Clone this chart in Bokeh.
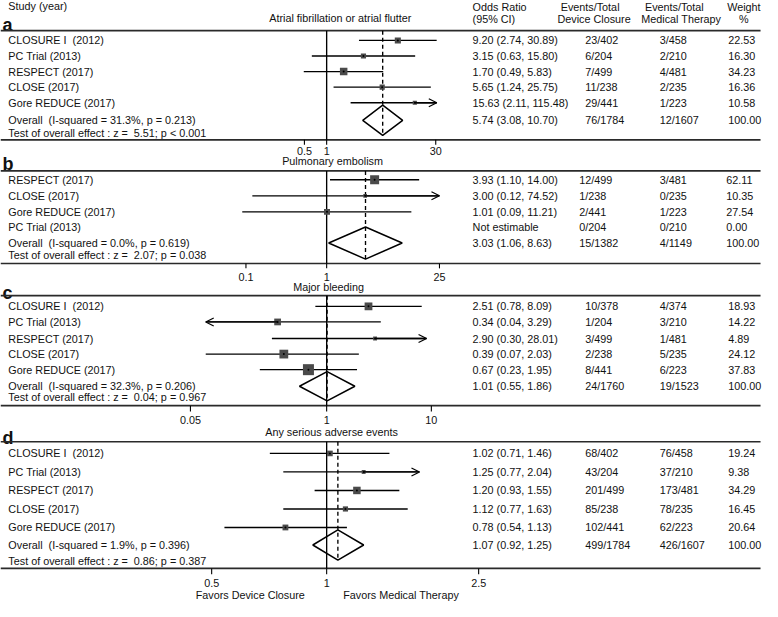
import math
from bokeh.plotting import figure
from bokeh.models import Range1d, LogScale, Arrow, OpenHead, ColumnDataSource
from bokeh.core.properties import value
from bokeh.embed import file_html
from bokeh.resources import INLINE

NB = "\u00a0"  # keeps the double spaces of the original labels

# ---------------- data ----------------
studies_a = ["CLOSURE I" + NB + " (2012)", "PC Trial (2013)", "RESPECT (2017)", "CLOSE (2017)", "Gore REDUCE (2017)"]
or_a = [9.20, 3.15, 1.70, 5.65, 15.63]
lo_a = [2.74, 0.63, 0.49, 1.24, 2.11]
hi_a = [30.89, 15.80, 5.83, 25.75, 115.48]
dev_a = ["23/402", "6/204", "7/499", "11/238", "29/441"]
med_a = ["3/458", "2/210", "4/481", "2/235", "1/223"]
wt_a = [22.53, 16.30, 34.23, 16.36, 10.58]
overall_a = [5.74, 3.08, 10.70]
tot_a = ["76/1784", "12/1607"]
het_a = "Overall" + NB + " (I-squared = 31.3%, p = 0.213)"
test_a = "Test of overall effect : z =" + NB + " 5.51; p < 0.001"
ticks_a = [0.5, 1, 30]
ticklab_a = ["0.5", "1", "30"]

studies_b = ["RESPECT (2017)", "CLOSE (2017)", "Gore REDUCE (2017)", "PC Trial (2013)"]
or_b = [3.93, 3.00, 1.01, None]
lo_b = [1.10, 0.12, 0.09, None]
hi_b = [14.00, 74.52, 11.21, None]
dev_b = ["12/499", "1/238", "2/441", "0/204"]
med_b = ["3/481", "0/235", "1/223", "0/210"]
wt_b = [62.11, 10.35, 27.54, 0.00]
overall_b = [3.03, 1.06, 8.63]
tot_b = ["15/1382", "4/1149"]
het_b = "Overall" + NB + " (I-squared = 0.0%, p = 0.619)"
test_b = "Test of overall effect : z =" + NB + " 2.07; p = 0.038"
ticks_b = [0.1, 1, 25]
ticklab_b = ["0.1", "1", "25"]

studies_c = ["CLOSURE I" + NB + " (2012)", "PC Trial (2013)", "RESPECT (2017)", "CLOSE (2017)", "Gore REDUCE (2017)"]
or_c = [2.51, 0.34, 2.90, 0.39, 0.67]
lo_c = [0.78, 0.04, 0.30, 0.07, 0.23]
hi_c = [8.09, 3.29, 28.01, 2.03, 1.95]
dev_c = ["10/378", "1/204", "3/499", "2/238", "8/441"]
med_c = ["4/374", "3/210", "1/481", "5/235", "6/223"]
wt_c = [18.93, 14.22, 4.89, 24.12, 37.83]
overall_c = [1.01, 0.55, 1.86]
tot_c = ["24/1760", "19/1523"]
het_c = "Overall" + NB + " (I-squared = 32.3%, p = 0.206)"
test_c = "Test of overall effect : z =" + NB + " 0.04; p = 0.967"
ticks_c = [0.05, 1, 10]
ticklab_c = ["0.05", "1", "10"]

studies_d = ["CLOSURE I" + NB + " (2012)", "PC Trial (2013)", "RESPECT (2017)", "CLOSE (2017)", "Gore REDUCE (2017)"]
or_d = [1.02, 1.25, 1.20, 1.12, 0.78]
lo_d = [0.71, 0.77, 0.93, 0.77, 0.54]
hi_d = [1.46, 2.04, 1.55, 1.63, 1.13]
dev_d = ["68/402", "43/204", "201/499", "85/238", "102/441"]
med_d = ["76/458", "37/210", "173/481", "78/235", "62/223"]
wt_d = [19.24, 9.38, 34.29, 16.45, 20.64]
overall_d = [1.07, 0.92, 1.25]
tot_d = ["499/1784", "426/1607"]
het_d = "Overall" + NB + " (I-squared = 1.9%, p = 0.396)"
test_d = "Test of overall effect : z =" + NB + " 0.86; p = 0.387"
ticks_d = [0.5, 1, 2.5]
ticklab_d = ["0.5", "1", "2.5"]

titles = ["Atrial fibrillation or atrial flutter", "Pulmonary embolism", "Major bleeding", "Any serious adverse events"]
letters = ["a", "b", "c", "d"]
header_left = ["Study (year)"]
header_cols = [["Odds Ratio", "(95% CI)"], ["Events/Total", "Device Closure"],
               ["Events/Total", "Medical Therapy"], ["Weight", "%"]]
favors = ["Favors Device Closure", "Favors Medical Therapy"]

# ---------------- layout (image-pixel coordinates) ----------------
W_IMG, H_IMG = 778, 617
NULL_X = 333.0
FONT = value("Liberation Sans")
FS = value("10.8px")
TXT = "#111111"
LW = 1.35

layout = [
    dict(key="a", scale=75.4, clip=(0.4, 31), k=7.5, top=31, bottom=143, rows=[41, 57, 73, 89, 105],
         oy=123, ty=136, dh=15.5, tick_len=5, tick_y=155, letter_y=25, title_x=347, title_y=18,
         cols=(482, 597, 673, 743)),
    dict(key="b", scale=82.4, clip=(0.09, 25), k=9.0, top=175, bottom=270, rows=[184, 200.5, 217, 233],
         oy=249, ty=261, dh=16.5, tick_len=5, tick_y=284, letter_y=168, title_x=339, title_y=165,
         cols=(482, 591, 673, 741)),
    dict(key="c", scale=106.9, clip=(0.07, 9), k=11.0, top=303, bottom=416, rows=[314, 330, 347, 363, 379],
         oy=396, ty=407, dh=15, tick_len=6, tick_y=431, letter_y=300, title_x=335, title_y=294,
         cols=(482, 597, 673, 743)),
    dict(key="d", scale=390.0, clip=(0.4, 1.75), k=7.5, top=453, bottom=583, rows=[465, 484, 503, 522, 541],
         oy=559, ty=575, dh=15.5, tick_len=6, tick_y=598, letter_y=449, title_x=338, title_y=443,
         cols=(482, 597, 673, 743)),
]
datasets = [
    (studies_a, or_a, lo_a, hi_a, dev_a, med_a, wt_a, overall_a, tot_a, het_a, test_a, ticks_a, ticklab_a),
    (studies_b, or_b, lo_b, hi_b, dev_b, med_b, wt_b, overall_b, tot_b, het_b, test_b, ticks_b, ticklab_b),
    (studies_c, or_c, lo_c, hi_c, dev_c, med_c, wt_c, overall_c, tot_c, het_c, test_c, ticks_c, ticklab_c),
    (studies_d, or_d, lo_d, hi_d, dev_d, med_d, wt_d, overall_d, tot_d, het_d, test_d, ticks_d, ticklab_d),
]

p = figure(width=762, height=601, x_range=Range1d(0, W_IMG), y_range=Range1d(H_IMG, 0),
           output_backend="svg", toolbar_location=None, min_border=0,
           x_axis_location=None, y_axis_location=None, outline_line_color=None, title=None)
p.grid.visible = False
p.background_fill_color = "white"

p.extra_x_ranges = {L["key"]: Range1d(10 ** (-NULL_X / L["scale"]), 10 ** ((W_IMG - NULL_X) / L["scale"]))
                    for L in layout}
p.extra_x_scales = {L["key"]: LogScale() for L in layout}


def txt(x, y, t, align="left", baseline="middle", size=FS, style="normal", rng="default"):
    p.text(x=x, y=y, text=t, text_font=FONT, text_font_size=size, text_align=align,
           text_baseline=baseline, text_color=TXT, text_font_style=style, x_range_name=rng)


# header
txt([8], [6], header_left)
hc = [(482, "left"), (602, "center"), (688, "center"), (759, "center")]
hc2 = [(482, "left"), (606, "center"), (695, "center"), (759, "center")]
for (x1, a1), (x2, a2), lines in zip(hc, hc2, header_cols):
    txt([x1], [6.5], [lines[0]], align=a1)
    txt([x2], [18.5], [lines[1]], align=a2)

for L, D, title, letter in zip(layout, datasets, titles, letters):
    studies, ors, los, his, devs, meds, wts, ov, tot, het, test, ticks, ticklab = D
    key = L["key"]
    rows = L["rows"]
    c_or, c_dev, c_med, c_wt = L["cols"]
    clo, chi = L["clip"]

    # letter + title
    txt([2], [L["letter_y"]], [letter], baseline="alphabetic", size=value("18px"), style="bold")
    txt([L["title_x"]], [L["title_y"]], [title], align="center")

    # rules
    p.segment(x0=[0, 0], x1=[776, 776], y0=[L["top"], L["bottom"]], y1=[L["top"], L["bottom"]],
              line_width=1.7, line_color="#2a2a2a")

    # left text
    txt([8] * len(studies), rows, studies)
    txt([8], [L["oy"]], [het])
    txt([8], [L["ty"]], [test])

    # right columns
    or_txt = [f"{o:.2f} ({l:.2f}, {h:.2f})" if o is not None else "Not estimable"
              for o, l, h in zip(ors, los, his)]
    txt([c_or] * len(rows), rows, or_txt)
    txt([c_dev] * len(rows), rows, devs)
    txt([c_med] * len(rows), rows, meds)
    txt([c_wt] * len(rows), rows, [f"{w:.2f}" for w in wts])
    txt([c_or], [L["oy"]], [f"{ov[0]:.2f} ({ov[1]:.2f}, {ov[2]:.2f})"])
    txt([c_dev], [L["oy"]], [tot[0]])
    txt([c_med], [L["oy"]], [tot[1]])
    txt([c_wt], [L["oy"]], [f"{100:.2f}"])

    # null line and overall dashed line
    p.segment(x0=[1], x1=[1], y0=[L["top"]], y1=[L["bottom"]], line_color="black", line_width=LW,
              x_range_name=key)
    p.segment(x0=[ov[0]], x1=[ov[0]], y0=[L["top"]], y1=[L["oy"] + L["dh"]], line_color="black",
              line_width=LW, line_dash="4 3", x_range_name=key)

    # CIs
    est = [(o, l, h, y, w) for o, l, h, y, w in zip(ors, los, his, rows, wts) if o is not None]
    x0 = [max(l, clo) for o, l, h, y, w in est]
    x1 = [min(h, chi) for o, l, h, y, w in est]
    ys = [y for o, l, h, y, w in est]
    p.segment(x0=x0, x1=x1, y0=ys, y1=ys, line_color="black", line_width=LW, x_range_name=key)

    ax0, ax1, ay = [], [], []
    for o, l, h, y, w in est:
        if h > chi:
            ax0.append(o); ax1.append(chi); ay.append(y)
        if l < clo:
            ax0.append(o); ax1.append(clo); ay.append(y)
    if ax0:
        src = ColumnDataSource(dict(x0=ax0, x1=ax1, y=ay))
        p.add_layout(Arrow(end=OpenHead(size=8, line_width=1.2, line_color="black"),
                           x_start="x0", y_start="y", x_end="x1", y_end="y", source=src,
                           x_range_name=key, line_width=LW, line_color="black"))

    # squares
    wmax = max(wts)
    sizes = [L["k"] * math.sqrt(w / wmax) for o, l, h, y, w in est]
    xs = [o for o, l, h, y, w in est]
    p.scatter(x=xs, y=ys, size=sizes, marker="square", fill_color="#4a4a4a", line_color=None,
              x_range_name=key)
    p.scatter(x=xs, y=ys, size=2, marker="circle", fill_color="black", line_color=None,
              x_range_name=key)

    # diamond
    yc, dh = L["oy"], L["dh"]
    p.patch(x=[ov[1], ov[0], ov[2], ov[0]], y=[yc, yc - dh, yc, yc + dh], fill_color=None,
            line_color="black", line_width=1.5, x_range_name=key)

    # ticks
    p.segment(x0=ticks, x1=ticks, y0=[L["bottom"]] * len(ticks),
              y1=[L["bottom"] + L["tick_len"]] * len(ticks), line_color="black", line_width=1.1,
              x_range_name=key)
    txt(ticks, [L["tick_y"]] * len(ticks), ticklab, align="center", rng=key)

# footer
txt([255, 409], [610, 610], favors, align="center")

open("out.html", "w").write(file_html(p, INLINE))
